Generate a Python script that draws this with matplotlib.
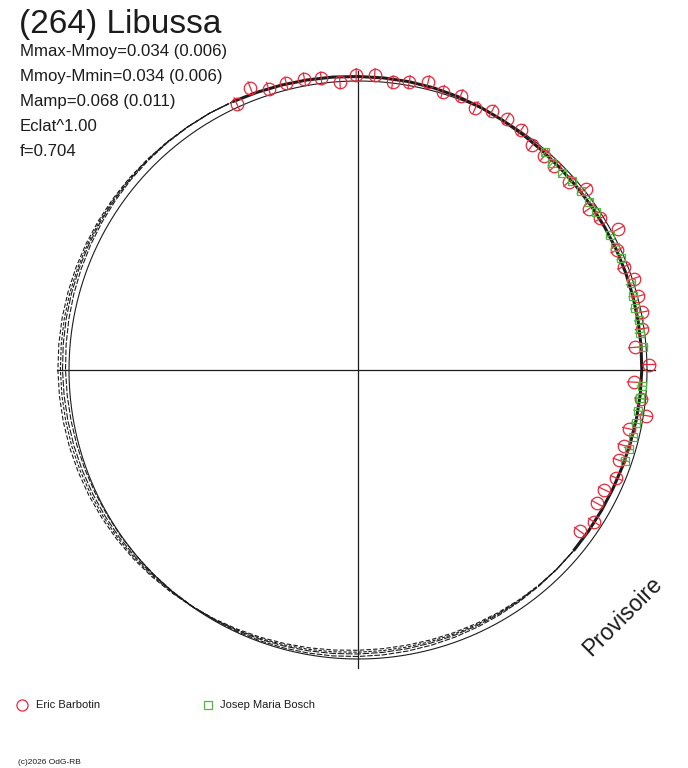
import numpy as np
import matplotlib
matplotlib.use("Agg")
import matplotlib.pyplot as plt
from matplotlib.collections import LineCollection

# ---------------- data ----------------
TITLE = "(264) Libussa"
STATS = ["Mmax-Mmoy=0.034 (0.006)",
         "Mmoy-Mmin=0.034 (0.006)",
         "Mamp=0.068 (0.011)",
         "Eclat^1.00",
         "f=0.704"]
OBSERVERS = ["Eric Barbotin", "Josep Maria Bosch"]
WATERMARK = "Provisoire"
COPYRIGHT = "(c)2026 OdG-RB"

# model grid: phase j/72 (0 at top, clockwise)
GRID_PHASE = [j / 72 for j in range(72)]
MODEL_DM = [-0.045, -0.042, -0.038, -0.031, -0.021, -0.009, 0.004, 0.016, 0.026, 0.033,
            0.037, 0.038, 0.039, 0.040, 0.042, 0.044, 0.046, 0.049, 0.052, 0.057,
            0.063, 0.070, 0.075, 0.078, 0.079, 0.078, 0.077, 0.076, 0.075, 0.074,
            0.072, 0.070, 0.067, 0.064, 0.060, 0.055, 0.050, 0.044, 0.038, 0.032,
            0.025, 0.018, 0.011, 0.004, -0.003, -0.010, -0.018, -0.025, -0.031, -0.038,
            -0.044, -0.050, -0.055, -0.060, -0.065, -0.069, -0.073, -0.076, -0.078, -0.080,
            -0.081, -0.082, -0.082, -0.081, -0.080, -0.078, -0.076, -0.071, -0.065, -0.060,
            -0.055, -0.050]
# alternative solutions: deviations from the model over the unobserved arc (grid 28..65)
ALT_START = 28
ALT1_DEV = [0.005, 0.010, 0.016, 0.022, 0.027, 0.031, 0.035, 0.037, 0.037, 0.035,
            0.031, 0.026, 0.020, 0.013, 0.005, -0.003, -0.011, -0.019, -0.026, -0.032,
            -0.037, -0.041, -0.044, -0.046, -0.047, -0.047, -0.046, -0.044, -0.041, -0.037,
            -0.033, -0.028, -0.023, -0.018, -0.013, -0.008, -0.004, -0.001]
ALT2_DEV = [-0.003, -0.007, -0.011, -0.015, -0.019, -0.022, -0.024, -0.025, -0.025, -0.024,
            -0.022, -0.019, -0.015, -0.010, -0.005, 0.000, 0.005, 0.010, 0.015, 0.019,
            0.023, 0.026, 0.028, 0.030, 0.031, 0.031, 0.030, 0.029, 0.027, 0.024,
            0.021, 0.018, 0.015, 0.012, 0.009, 0.006, 0.003, 0.001]
ALT3_DEV = [0.002, 0.005, 0.008, 0.011, 0.013, 0.015, 0.017, 0.018, 0.018, 0.017,
            0.015, 0.012, 0.009, 0.005, 0.001, -0.003, -0.007, -0.010, -0.013, -0.016,
            -0.018, -0.020, -0.021, -0.022, -0.022, -0.022, -0.021, -0.020, -0.019, -0.017,
            -0.015, -0.013, -0.011, -0.009, -0.007, -0.005, -0.003, -0.001]
THICK_IDX = [67, 68, 69, 70, 71] + list(range(0, 27))

# Eric Barbotin observations
EB_PHASE = [0.932, 0.942, 0.951, 0.961, 0.971, 0.980, 0.990, 0.999, 0.009, 0.019,
            0.028, 0.038, 0.047, 0.057, 0.067, 0.076, 0.085, 0.095, 0.105, 0.114,
            0.122, 0.134, 0.143, 0.153, 0.161, 0.171, 0.181, 0.191, 0.199, 0.209,
            0.218, 0.227, 0.237, 0.247, 0.257, 0.266, 0.275, 0.284, 0.294, 0.303,
            0.313, 0.322, 0.331, 0.341, 0.350]
EB_DM = [-0.037, -0.130, -0.063, -0.064, -0.067, -0.049, 0.007, -0.060, -0.064, -0.007,
         -0.034, -0.072, -0.021, -0.039, 0.015, -0.028, -0.030, -0.011, 0.048, 0.051,
         0.061, 0.067, -0.023, 0.076, 0.032, -0.069, 0.038, 0.040, -0.013, -0.009,
         -0.005, 0.024, 0.111, -0.024, 0.131, 0.043, -0.022, 0.118, 0.123, 0.126,
         0.089, 0.150, 0.151, 0.086, 0.148]
EB_ERR = 0.07

# Josep Maria Bosch observations
JMB_PHASE = [0.113, 0.120, 0.128, 0.135, 0.142, 0.150, 0.157, 0.172, 0.179, 0.186,
             0.201, 0.208, 0.215, 0.222, 0.229, 0.237, 0.259, 0.266, 0.273, 0.280,
             0.288, 0.295, 0.302]
JMB_DM = [0.020, 0.050, 0.054, 0.035, 0.031, 0.038, 0.032, 0.030, 0.041, 0.030,
          0.030, 0.040, 0.052, 0.038, 0.050, 0.027, 0.049, 0.053, 0.060, 0.061,
          0.063, 0.073, 0.069]
JMB_ERR = 0.05

# ---------------- geometry / style ----------------
W, H = 688, 768
CX, CY = 358, 370          # centre of the polar plot (pixels)
R0 = 289.0                 # mean-magnitude circle radius
K = 100.0                  # radius units per magnitude
AXIS_HALF = 298
RED = "#e8283a"
GREEN = "#55b544"
INK = "#1c1c1c"


def to_xy(phase, dm):
    th = np.radians(90.0 - 360.0 * np.asarray(phase, float))
    r = R0 - K * np.asarray(dm, float)
    return r * np.cos(th), r * np.sin(th)


def closed(a):
    a = list(a)
    return a + a[:1]


def alt_curve(dev):
    out = np.array(MODEL_DM, float)
    out[ALT_START:ALT_START + len(dev)] += np.asarray(dev, float)
    return out


plt.rcParams['font.family'] = ['Liberation Sans', 'DejaVu Sans']
fig = plt.figure(figsize=(W / 100, H / 100), dpi=100)
ax = fig.add_axes([0, 0, 1, 1])
ax.set_xlim(-CX, W - CX)
ax.set_ylim(-(H - CY), CY)
ax.axis('off')

# crosshair
ax.plot([-AXIS_HALF - 3, AXIS_HALF - 1], [0, 0], color=INK, lw=0.9, zorder=2)
ax.plot([0, 0], [-AXIS_HALF, AXIS_HALF + 1], color=INK, lw=0.9, zorder=2)

# mean circle
t = np.linspace(0, 2 * np.pi, 721)
ax.plot(R0 * np.cos(t), R0 * np.sin(t), color=INK, lw=0.8, zorder=2)

# model and alternative solutions (dashed)
curves = [(np.array(MODEL_DM), (6, 1.5)),
          (alt_curve(ALT1_DEV), (4, 2)),
          (alt_curve(ALT2_DEV), (5, 1.5)),
          (alt_curve(ALT3_DEV), (3, 1.5))]
for dm, dash in curves:
    x, y = to_xy(closed(GRID_PHASE), closed(dm))
    ax.plot(x, y, color=INK, lw=0.8, linestyle=(0, dash), zorder=3)

# model over observed range (thick)
x, y = to_xy([GRID_PHASE[i] for i in THICK_IDX], [MODEL_DM[i] for i in THICK_IDX])
ax.plot(x, y, color=INK, lw=2.2, solid_capstyle='butt', zorder=4)


def error_segments(phase, dm, err):
    phase = np.asarray(phase, float)
    dm = np.asarray(dm, float)
    x1, y1 = to_xy(phase, dm - err)
    x2, y2 = to_xy(phase, dm + err)
    return [[(a, b), (c, d)] for a, b, c, d in zip(x1, y1, x2, y2)]


ax.add_collection(LineCollection(error_segments(EB_PHASE, EB_DM, EB_ERR),
                                 colors=RED, linewidths=0.9, zorder=5))
ax.add_collection(LineCollection(error_segments(JMB_PHASE, JMB_DM, JMB_ERR),
                                 colors=GREEN, linewidths=0.9, zorder=5))

x, y = to_xy(EB_PHASE, EB_DM)
ax.plot(x, y, 'o', ms=9, mfc='none', mec=RED, mew=0.9, zorder=6)
x, y = to_xy(JMB_PHASE, JMB_DM)
ax.plot(x, y, 's', ms=6.3, mfc='none', mec=GREEN, mew=0.9, zorder=6)

# ---------------- texts ----------------
def fx(px):
    return px / W


def fy(py):
    return 1 - py / H


fig.text(fx(19), fy(33), TITLE, fontsize=24, color=INK, va='baseline', ha='left')
for i, s in enumerate(STATS):
    fig.text(fx(20), fy(56 + 25 * i), s, fontsize=12.1, color=INK, va='baseline', ha='left')

fig.text(fx(623), fy(616), WATERMARK, fontsize=16.5, color=INK, rotation=45,
         ha='center', va='center', rotation_mode='anchor')

# legend
ax.plot([22 - CX], [CY - 705], 'o', ms=8, mfc='none', mec=RED, mew=0.9)
ax.plot([208 - CX], [CY - 705], 's', ms=6, mfc='none', mec=GREEN, mew=0.9)
fig.text(fx(36), fy(705), OBSERVERS[0], fontsize=8, color=INK, va='center', ha='left')
fig.text(fx(220), fy(705), OBSERVERS[1], fontsize=8, color=INK, va='center', ha='left')
fig.text(fx(18), fy(763), COPYRIGHT, fontsize=6, color=INK, va='center', ha='left')

fig.savefig("out.png", dpi=100)
